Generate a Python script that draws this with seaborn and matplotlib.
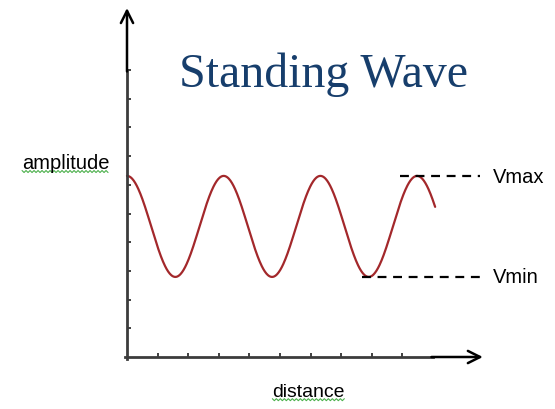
import numpy as np
import pandas as pd
import matplotlib
matplotlib.use("Agg")
import matplotlib.pyplot as plt
import seaborn as sns
from matplotlib import font_manager

# Wave description (axis units: one tick per unit)
vmax = 6.31          # crest level
vmin = 2.79          # trough level
wavelength = 3.16    # distance between crests
distance_end = 10.07 # where the drawn wave stops

# Axis extents
x_ticks = list(range(1, 10))
y_ticks = list(range(1, 11))
x_axis_end, y_axis_end = 10.0, 10.0
x_arrow_tip, y_arrow_tip = 11.63, 12.16

# Reference levels with their dashed guides
vmax_guide = (8.92, 11.54)
vmin_guide = (7.68, 11.60)

title_text = "Standing Wave"
x_label = "distance"
y_label = "amplitude"
max_label, min_label = "Vmax", "Vmin"

sns.set_theme(style="white")
plt.rcParams["font.family"] = ["Liberation Sans", "DejaVu Sans"]

# condensed face for the labels when available
names = {f.name for f in font_manager.fontManager.ttflist}
if "Liberation Sans Narrow" in names:
    label_family, label_size = ["Liberation Sans Narrow", "DejaVu Sans"], 17
else:
    label_family, label_size = ["Liberation Sans", "DejaVu Sans"], 14.5

W, H, DPI = 555, 409, 100
fig = plt.figure(figsize=(W / DPI, H / DPI), dpi=DPI)
ax = fig.add_axes([0, 0, 1, 1])
ax.set_facecolor("white")

# one axis unit in pixels, origin placement
ux, uy = 30.6, 28.7
ox, oy = 127, 357
ax.set_xlim(-ox / ux, (W - ox) / ux)
ax.set_ylim(-(H - oy) / uy, oy / uy)

# the wave
d = np.linspace(0, distance_end, 600)
mid = (vmax + vmin) / 2
amp = (vmax - vmin) / 2
wave = pd.DataFrame({"distance": d,
                     "amplitude": mid + amp * np.cos(2 * np.pi * d / wavelength)})
sns.lineplot(data=wave, x="distance", y="amplitude", ax=ax,
             color="#A3282B", lw=1.6, legend=False)
ax.set_xlabel("")
ax.set_ylabel("")

# axes drawn through the origin
axis_col = "#3c3c3c"
for side in ("top", "right"):
    ax.spines[side].set_visible(False)
ax.spines["left"].set_position(("data", 0))
ax.spines["bottom"].set_position(("data", 0))
ax.spines["left"].set_bounds(-0.08, y_axis_end)
ax.spines["bottom"].set_bounds(-0.08, x_axis_end)
for side in ("left", "bottom"):
    ax.spines[side].set_color(axis_col)
    ax.spines[side].set_linewidth(2.0)
ax.set_xticks(x_ticks)
ax.set_yticks(y_ticks)
ax.set_xticklabels([])
ax.set_yticklabels([])
ax.tick_params(axis="x", direction="in", length=3, width=1.2, color="#202020", bottom=True)
ax.tick_params(axis="y", direction="in", length=3, width=1.2, color="#202020", left=True)
ax.grid(False)

arrow = dict(arrowstyle="->", lw=1.8, color="black", mutation_scale=22,
             shrinkA=0, shrinkB=0)
ax.annotate("", xy=(x_arrow_tip, 0), xytext=(x_axis_end - 0.05, 0), arrowprops=arrow)
ax.annotate("", xy=(0, y_arrow_tip), xytext=(0, y_axis_end - 0.05), arrowprops=arrow)

# dashed guides for the extreme levels
ax.hlines([vmax], *vmax_guide, colors="black", linestyles=(0, (4, 3)), lw=1.6)
ax.hlines([vmin], *vmin_guide, colors="black", linestyles=(0, (4, 3)), lw=1.6)

# texts
ax.text(6.42, 9.4, title_text, family=["Liberation Serif", "DejaVu Serif"],
        fontsize=34.5, color="#173E6C", ha="center", va="baseline")
lbl = dict(fontsize=label_size, family=label_family, color="black",
           va="baseline", ha="left")
t_amp = ax.text(-3.43, 6.55, y_label, **lbl)
t_dist = ax.text(4.75, -1.40, x_label, **{**lbl, "fontsize": label_size * 0.96})
ax.text(11.96, 6.06, max_label, **lbl)
ax.text(11.96, 2.58, min_label, **lbl)

# green wavy underline beneath the axis names
fig.canvas.draw()
renderer = fig.canvas.get_renderer()
inv = ax.transData.inverted()
for t in (t_amp, t_dist):
    bb = t.get_window_extent(renderer)
    xs = np.arange(bb.x0, bb.x1 + 0.1, 2.0)
    base = bb.y0 + 1.5
    ys = base + np.where(np.arange(len(xs)) % 2 == 0, 1.0, -1.0)
    pts = inv.transform(np.column_stack([xs, ys]))
    ax.plot(pts[:, 0], pts[:, 1], color="#4CB04C", lw=0.8)

fig.savefig("out.png", dpi=DPI)
